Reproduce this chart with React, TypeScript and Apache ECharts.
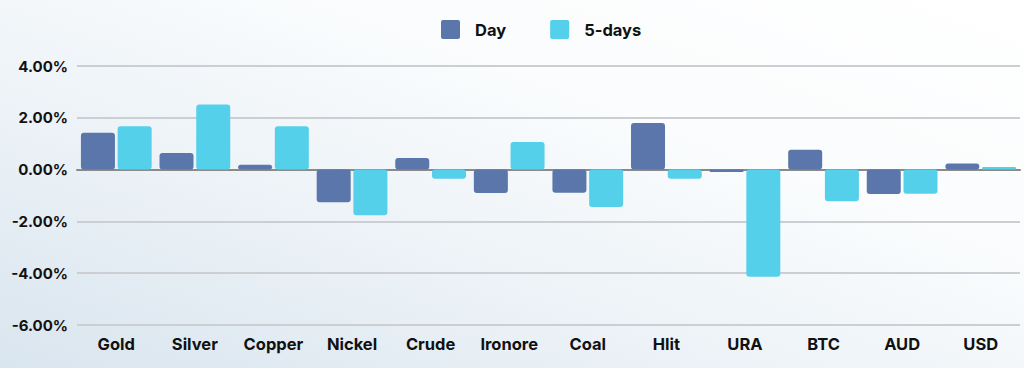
import React, { useEffect, useRef } from "react";
import * as echarts from "echarts";

const categories = ["Gold", "Silver", "Copper", "Nickel", "Crude", "Ironore", "Coal", "Hlit", "URA", "BTC", "AUD", "USD"];
const dayValues = [1.42, 0.64, 0.19, -1.26, 0.45, -0.9, -0.89, 1.8, -0.09, 0.77, -0.94, 0.24];
const fiveDayValues = [1.67, 2.51, 1.67, -1.76, -0.35, 1.07, -1.44, -0.35, -4.14, -1.22, -0.93, 0.1];
const seriesNames = ["Day", "5-days"];

const FONT = "Inter, 'Open Sans', sans-serif";
const LEGEND_ICON = "path://M2,0 H17 Q19,0 19,2 V17 Q19,19 17,19 H2 Q0,19 0,17 V2 Q0,0 2,0 Z";

export default function App() {
  const ref = useRef<HTMLDivElement>(null);
  useEffect(() => {
    if (!ref.current) return;
    const chart = echarts.init(ref.current, undefined, { renderer: "svg" });
    chart.setOption({
      animation: false,
      textStyle: { fontFamily: FONT },
      legend: {
        top: 15,
        left: 436,
        itemWidth: 19,
        itemHeight: 19,
        itemGap: 44,
        icon: LEGEND_ICON,
        data: seriesNames,
        textStyle: { fontFamily: FONT, fontWeight: 700, fontSize: 16.5, color: "#111", padding: [0, 0, 0, 10] },
      },
      grid: { left: 77, right: 4, top: 66, bottom: 43 },
      xAxis: {
        type: "category",
        data: categories,
        axisLine: { show: true, lineStyle: { color: "#8a8a8a", width: 2 } },
        axisTick: { show: false },
        axisLabel: { fontFamily: FONT, fontWeight: 700, fontSize: 16.5, color: "#111", margin: 10, interval: 0 },
      },
      yAxis: {
        type: "value",
        min: -6,
        max: 4,
        interval: 2,
        axisLine: { show: false },
        axisTick: { show: false },
        splitLine: { lineStyle: { color: "#cbced2", width: 2 } },
        axisLabel: {
          fontFamily: FONT,
          fontWeight: 700,
          fontSize: 15,
          color: "#111",
          margin: 9,
          formatter: (v: number) => v.toFixed(2) + "%",
        },
      },
      series: [
        {
          name: seriesNames[0],
          type: "bar",
          data: dayValues,
          barWidth: 34,
          barGap: "8%",
          itemStyle: { color: "#5a76ab", borderRadius: 3 },
        },
        {
          name: seriesNames[1],
          type: "bar",
          data: fiveDayValues,
          barWidth: 34,
          barGap: "8%",
          itemStyle: { color: "#55d0eb", borderRadius: 3 },
        },
      ],
    });
    return () => chart.dispose();
  }, []);
  return (
    <div
      style={{
        position: "absolute",
        left: 0,
        top: 0,
        width: 1024,
        height: 368,
        background: "linear-gradient(20deg, #d9e5ef 0%, #ecf2f7 35%, #fafcfd 65%, #ffffff 100%)",
      }}
    >
      <div ref={ref} style={{ width: 1024, height: 368 }} />
    </div>
  );
}
